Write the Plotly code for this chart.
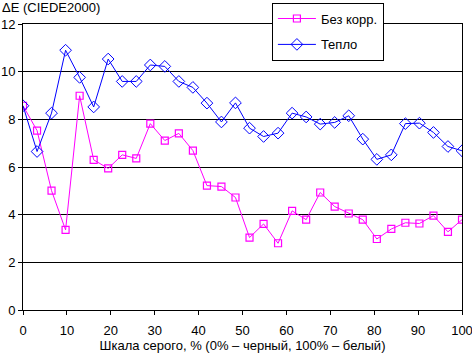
import plotly.graph_objects as go

x_vals = [0, 3.2, 6.5, 9.7, 12.9, 16.1, 19.4, 22.6, 25.8, 29.0, 32.3, 35.5, 38.7, 41.9, 45.2, 48.4,
          51.6, 54.8, 58.1, 61.3, 64.5, 67.7, 71.0, 74.2, 77.4, 80.6, 83.9, 87.1, 90.3, 93.5, 96.8, 100]
bez_korr = [8.57, 7.53, 5.01, 3.36, 8.99, 6.30, 5.94, 6.51, 6.36, 7.82, 7.11, 7.41, 6.69, 5.22, 5.18, 4.72,
            3.04, 3.61, 2.80, 4.16, 3.79, 4.93, 4.34, 4.05, 3.79, 2.98, 3.40, 3.66, 3.63, 3.96, 3.28, 3.79]
teplo = [8.57, 6.65, 8.26, 10.90, 9.76, 8.52, 10.53, 9.59, 9.59, 10.28, 10.22, 9.59, 9.34, 8.68, 7.89, 8.69,
         7.63, 7.28, 7.42, 8.26, 8.10, 7.80, 7.87, 8.15, 7.17, 6.32, 6.51, 7.82, 7.84, 7.45, 6.86, 6.68]
x_ticks = [0, 10, 20, 30, 40, 50, 60, 70, 80, 90, 100]
y_ticks = [0, 2, 4, 6, 8, 10, 12]

FONT = "Liberation Sans, Arial, sans-serif"

fig = go.Figure()
fig.add_trace(go.Scatter(
    x=x_vals, y=bez_korr, name="Без корр.", mode="lines+markers", legendgroup="a",
    line=dict(color="#FF00FF", width=1),
    marker=dict(symbol="square-open", size=7, color="#FF00FF", line=dict(width=1.2)),
))
fig.add_trace(go.Scatter(
    x=x_vals, y=teplo, name="Тепло", mode="lines+markers", legendgroup="b",
    line=dict(color="#0000FF", width=1),
    marker=dict(symbol="diamond-open", size=9, color="#0000FF", line=dict(width=1)),
))

fig.update_layout(
    width=472, height=353,
    margin=dict(l=23, r=10, t=24, b=43, autoexpand=False),
    paper_bgcolor="white", plot_bgcolor="white",
    font=dict(family=FONT, size=13, color="black"),
    showlegend=True,
    legend=dict(
        x=0.567, y=1.075, xanchor="left", yanchor="top",
        bgcolor="white", bordercolor="black", borderwidth=1,
        font=dict(family=FONT, size=13, color="black"),
        tracegroupgap=6, traceorder="grouped",
        itemwidth=38,
    ),
    xaxis=dict(
        range=[0, 100], tickvals=x_ticks, ticks="outside", ticklen=4, tickcolor="black",
        showline=True, linecolor="black", linewidth=1, mirror=True,
        showgrid=False, zeroline=False, automargin=False, ticklabelstandoff=4,
        ticklabeloverflow="allow",
        title=dict(text="Шкала серого, % (0% – черный, 100% – белый)", standoff=5,
                   font=dict(family=FONT, size=13)),
    ),
    yaxis=dict(
        range=[0, 12], tickvals=y_ticks, ticks="outside", ticklen=4, tickcolor="black",
        showline=True, linecolor="black", linewidth=1, mirror=True, automargin=False,
        ticklabeloverflow="allow",
        showgrid=True, gridcolor="black", gridwidth=1, zeroline=False,
    ),
    annotations=[dict(
        text="ΔE (CIEDE2000)", x=0, y=1, xref="paper", yref="paper",
        xanchor="left", yanchor="bottom", xshift=-23, yshift=7, showarrow=False,
        font=dict(family=FONT, size=13),
    )],
)

fig.write_html("out.html")
